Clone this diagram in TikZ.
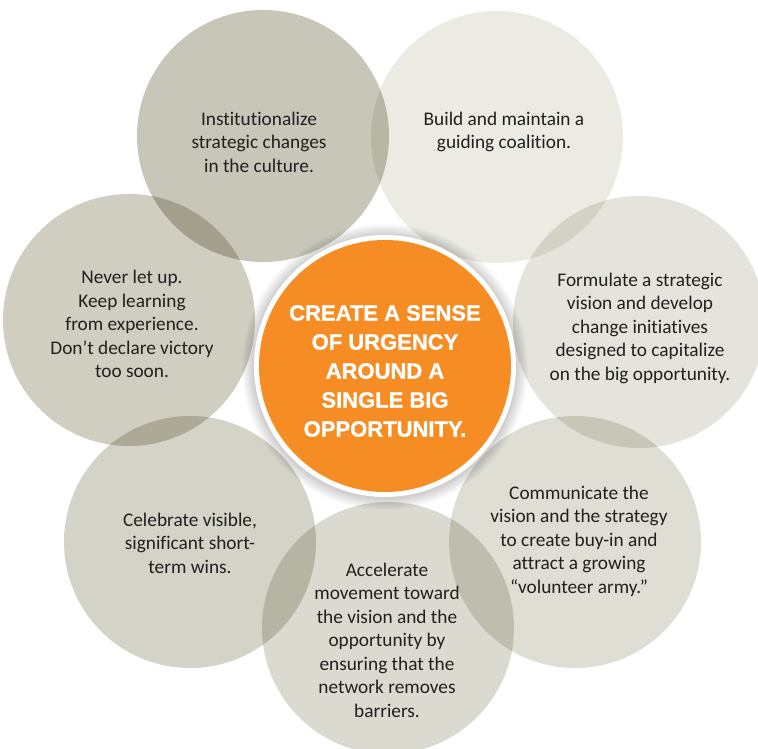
\documentclass[tikz,border=0pt]{standalone}
\usepackage{fontspec}
\setmainfont{Carlito}[Ligatures={NoCommon,NoRare,NoContextual}]
\newfontfamily\boldfam{Liberation Sans}[BoldFeatures={FakeBold=1.2}]
\definecolor{cA}{HTML}{C8C6B9}
\definecolor{cB}{HTML}{EBEBE4}
\definecolor{cC}{HTML}{E5E4DC}
\definecolor{cD}{HTML}{DFDED5}
\definecolor{cE}{HTML}{DBDAD1}
\definecolor{cF}{HTML}{D4D3C7}
\definecolor{cG}{HTML}{CFCEC1}
\definecolor{orng}{HTML}{F68D24}
\definecolor{txt}{HTML}{231F20}
\tikzset{
  bubble/.style={circle, minimum size=252pt, inner sep=0pt},
  btext/.style={align=center, text=txt, font=\fontsize{19.3}{23.5}\selectfont},
  ctext/.style={align=center, text=white, font=\boldfam\bfseries\fontsize{22}{29}\selectfont},
}
\begin{document}
\begin{tikzpicture}[x=1pt,y=-1pt]
\useasboundingbox (0,0) rectangle (758,749);
\fill[white] (0,0) rectangle (758,749);
\begin{scope}[blend group=multiply]
\node[bubble, fill=cA] (A) at (263,136) {};
\node[bubble, fill=cB] (B) at (497,137) {};
\node[bubble, fill=cC] (C) at (639,322) {};
\node[bubble, fill=cD] (D) at (575,542) {};
\node[bubble, fill=cE] (E) at (388,628) {};
\node[bubble, fill=cF] (F) at (190,542) {};
\node[bubble, fill=cG] (G) at (129,320) {};
\end{scope}
% shadow around centre
\foreach \r in {132,133,...,143}{
  \fill[black, fill opacity=0.016] (385,367) circle[radius=\r];
}
\node[circle, fill=white, minimum size=262pt, inner sep=0pt] (ring) at (385,366) {};
\node[circle, fill=orng, minimum size=252pt, inner sep=0pt] (core) at (385,366) {};
\node[ctext] (tcore) at (385,371) {CREATE A SENSE\\OF URGENCY\\AROUND A\\SINGLE BIG\\OPPORTUNITY.};
\node[btext] (tA) at (259,142) {Institutionalize\\strategic changes\\in the culture.};
\node[btext] (tB) at (504,132) {Build and maintain a\\guiding coalition.};
\node[btext] (tC) at (640,328) {Formulate a strategic\\vision and develop\\change initiatives\\designed to capitalize\\on the big opportunity.};
\node[btext] (tD) at (579,541) {Communicate the\\vision and the strategy\\to create buy-in and\\attract a growing\\“volunteer army.”};
\node[btext] (tE) at (387,640) {Accelerate\\movement toward\\the vision and the\\opportunity by\\ensuring that the\\network removes\\barriers.};
\node[btext] (tF) at (190,543) {Celebrate visible,\\significant short-\\term wins.};
\node[btext] (tG) at (132,324) {Never let up.\\Keep learning\\from experience.\\Don’t declare victory\\too soon.};
\end{tikzpicture}
\end{document}
